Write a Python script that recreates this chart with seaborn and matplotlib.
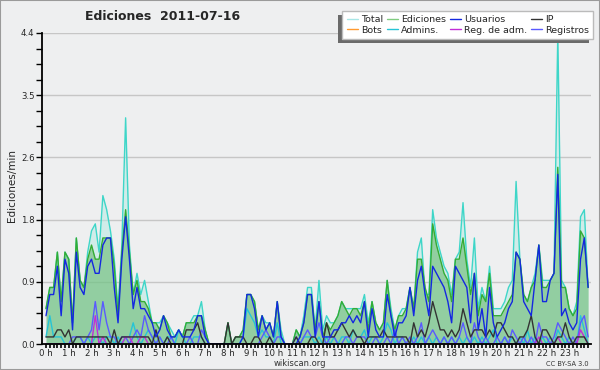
import numpy as np
import pandas as pd
import matplotlib
matplotlib.use("Agg")
import matplotlib.pyplot as plt
import seaborn as sns
from matplotlib.patches import Rectangle
from matplotlib.lines import Line2D
from matplotlib.ticker import FixedLocator, FixedFormatter

# ---- data (edits per minute, 10-minute bins, 2011-07-16) ----
total = [0.5, 0.8, 0.8, 1.3, 0.6, 1.3,  1.2, 0.3, 1.5, 0.9, 0.8, 1.3,
         1.6, 1.7, 1.3, 2.1, 1.9, 1.6,  1.2, 0.5, 1.4, 3.2, 1.4, 0.7,
         1.0, 0.7, 0.9, 0.6, 0.3, 0.3,  0.3, 0.4, 0.3, 0.2, 0.1, 0.2,
         0.1, 0.3, 0.3, 0.4, 0.4, 0.6,  0.2, 0.0, 0.0, 0.0, 0.0, 0.0,
         0.3, 0.0, 0.1, 0.1, 0.2, 0.7,  0.7, 0.6, 0.2, 0.4, 0.3, 0.3,
         0.1, 0.6, 0.2, 0.0, 0.0, 0.0,  0.2, 0.1, 0.4, 0.8, 0.8, 0.2,
         0.9, 0.2, 0.4, 0.3, 0.3, 0.4,  0.6, 0.5, 0.5, 0.5, 0.5, 0.5,
         0.7, 0.3, 0.6, 0.3, 0.2, 0.3,  0.9, 0.5, 0.2, 0.4, 0.5, 0.5,
         0.8, 0.5, 1.3, 1.5, 0.7, 0.7,  1.9, 1.5, 1.3, 1.1, 1.0, 0.7,
         1.2, 1.3, 2.0, 1.2, 0.8, 1.5,  0.5, 0.8, 0.6, 1.1, 0.5, 0.5,
         0.5, 0.6, 0.8, 0.9, 2.3, 1.2,  0.7, 0.6, 0.8, 1.0, 1.4, 0.9,
         0.9, 0.9, 1.0, 4.4, 0.9, 0.8,  0.5, 0.4, 0.6, 1.8, 1.9, 0.8]
ediciones = [0.5, 0.8, 0.8, 1.3, 0.6, 1.3,  1.2, 0.3, 1.5, 0.9, 0.8, 1.2,
             1.4, 1.2, 1.2, 1.5, 1.5, 1.5,  1.1, 0.4, 1.3, 1.9, 1.3, 0.7,
             0.9, 0.6, 0.6, 0.5, 0.3, 0.3,  0.2, 0.4, 0.3, 0.1, 0.1, 0.2,
             0.1, 0.3, 0.3, 0.3, 0.4, 0.4,  0.2, 0.0, 0.0, 0.0, 0.0, 0.0,
             0.3, 0.0, 0.1, 0.1, 0.2, 0.7,  0.7, 0.6, 0.2, 0.4, 0.2, 0.3,
             0.1, 0.6, 0.1, 0.0, 0.0, 0.0,  0.2, 0.1, 0.3, 0.7, 0.7, 0.2,
             0.6, 0.1, 0.3, 0.2, 0.3, 0.4,  0.6, 0.5, 0.4, 0.5, 0.5, 0.4,
             0.6, 0.2, 0.6, 0.3, 0.2, 0.3,  0.9, 0.4, 0.2, 0.4, 0.4, 0.5,
             0.8, 0.5, 1.2, 1.2, 0.8, 0.6,  1.7, 1.4, 1.2, 1.0, 0.9, 0.6,
             1.2, 1.2, 1.5, 1.1, 0.7, 1.0,  0.4, 0.7, 0.6, 1.0, 0.4, 0.4,
             0.4, 0.5, 0.6, 0.7, 1.3, 1.2,  0.7, 0.6, 0.8, 0.9, 1.4, 0.8,
             0.8, 0.9, 1.0, 2.5, 0.8, 0.8,  0.5, 0.4, 0.5, 1.6, 1.5, 0.8]
usuarios = [0.4, 0.7, 0.7, 1.1, 0.4, 1.2,  1.0, 0.2, 1.3, 0.8, 0.7, 1.1,
            1.2, 1.0, 1.0, 1.4, 1.5, 1.5,  0.8, 0.3, 1.2, 1.8, 1.2, 0.5,
            0.8, 0.5, 0.5, 0.4, 0.3, 0.1,  0.2, 0.4, 0.2, 0.1, 0.1, 0.2,
            0.1, 0.1, 0.1, 0.2, 0.4, 0.4,  0.1, 0.0, 0.0, 0.0, 0.0, 0.0,
            0.0, 0.0, 0.0, 0.0, 0.1, 0.7,  0.7, 0.5, 0.1, 0.4, 0.2, 0.3,
            0.1, 0.6, 0.1, 0.0, 0.0, 0.0,  0.0, 0.1, 0.3, 0.7, 0.7, 0.1,
            0.6, 0.1, 0.1, 0.1, 0.2, 0.2,  0.3, 0.3, 0.4, 0.3, 0.4, 0.3,
            0.6, 0.1, 0.5, 0.2, 0.1, 0.1,  0.7, 0.4, 0.1, 0.3, 0.3, 0.4,
            0.8, 0.4, 0.9, 1.1, 0.7, 0.4,  1.1, 1.0, 0.9, 0.8, 0.6, 0.3,
            1.1, 1.0, 0.9, 0.8, 0.3, 1.0,  0.2, 0.5, 0.1, 0.8, 0.3, 0.1,
            0.2, 0.3, 0.5, 0.6, 1.3, 1.2,  0.6, 0.5, 0.4, 0.9, 1.4, 0.6,
            0.6, 0.9, 1.0, 2.4, 0.4, 0.5,  0.3, 0.2, 0.3, 1.2, 1.5, 0.8]
ip = [0.1, 0.1, 0.1, 0.2, 0.2, 0.1,  0.2, 0.0, 0.1, 0.1, 0.1, 0.1,
      0.1, 0.1, 0.1, 0.1, 0.1, 0.0,  0.2, 0.0, 0.1, 0.1, 0.1, 0.1,
      0.1, 0.1, 0.1, 0.1, 0.0, 0.2,  0.0, 0.0, 0.1, 0.0, 0.0, 0.0,
      0.0, 0.2, 0.2, 0.2, 0.3, 0.1,  0.0, 0.0, 0.0, 0.0, 0.0, 0.0,
      0.3, 0.0, 0.1, 0.1, 0.1, 0.0,  0.0, 0.1, 0.1, 0.0, 0.0, 0.1,
      0.0, 0.0, 0.0, 0.0, 0.0, 0.0,  0.1, 0.0, 0.0, 0.0, 0.1, 0.1,
      0.0, 0.0, 0.3, 0.1, 0.1, 0.2,  0.3, 0.2, 0.1, 0.2, 0.1, 0.1,
      0.0, 0.1, 0.1, 0.1, 0.1, 0.2,  0.1, 0.1, 0.1, 0.1, 0.1, 0.1,
      0.0, 0.3, 0.1, 0.2, 0.1, 0.3,  0.6, 0.4, 0.2, 0.2, 0.1, 0.2,
      0.1, 0.2, 0.5, 0.3, 0.1, 0.2,  0.2, 0.2, 0.1, 0.2, 0.1, 0.3,
      0.3, 0.2, 0.1, 0.1, 0.0, 0.1,  0.1, 0.2, 0.4, 0.1, 0.0, 0.2,
      0.2, 0.1, 0.0, 0.1, 0.1, 0.3,  0.1, 0.0, 0.1, 0.1, 0.1, 0.0]
admins = [0.1, 0.4, 0.1, 0.1, 0.1, 0.0,  0.0, 0.0, 0.1, 0.1, 0.0, 0.1,
          0.0, 0.1, 0.1, 0.0, 0.1, 0.1,  0.0, 0.1, 0.0, 0.1, 0.1, 0.3,
          0.1, 0.0, 0.1, 0.2, 0.1, 0.0,  0.1, 0.0, 0.1, 0.1, 0.0, 0.2,
          0.1, 0.0, 0.0, 0.1, 0.1, 0.1,  0.0, 0.0, 0.0, 0.0, 0.0, 0.0,
          0.0, 0.0, 0.0, 0.0, 0.1, 0.5,  0.4, 0.3, 0.1, 0.2, 0.1, 0.1,
          0.0, 0.3, 0.0, 0.0, 0.0, 0.0,  0.0, 0.0, 0.1, 0.1, 0.1, 0.0,
          0.1, 0.0, 0.1, 0.0, 0.1, 0.0,  0.1, 0.1, 0.0, 0.2, 0.1, 0.1,
          0.2, 0.0, 0.1, 0.1, 0.0, 0.1,  0.3, 0.2, 0.0, 0.1, 0.1, 0.0,
          0.0, 0.1, 0.0, 0.1, 0.0, 0.1,  0.0, 0.1, 0.0, 0.1, 0.0, 0.1,
          0.0, 0.1, 0.0, 0.1, 0.0, 0.1,  0.0, 0.1, 0.0, 0.1, 0.2, 0.0,
          0.0, 0.1, 0.0, 0.1, 0.0, 0.1,  0.0, 0.2, 0.0, 0.1, 0.0, 0.1,
          0.0, 0.1, 0.0, 0.2, 0.1, 0.0,  0.1, 0.0, 0.0, 0.4, 0.2, 0.0]
registros = [0.0, 0.0, 0.0, 0.0, 0.0, 0.0,  0.0, 0.1, 0.1, 0.1, 0.0, 0.1,
             0.2, 0.6, 0.2, 0.6, 0.3, 0.1,  0.1, 0.0, 0.1, 0.1, 0.0, 0.1,
             0.2, 0.1, 0.4, 0.2, 0.1, 0.0,  0.1, 0.0, 0.0, 0.1, 0.0, 0.0,
             0.0, 0.0, 0.1, 0.0, 0.0, 0.2,  0.1, 0.0, 0.0, 0.0, 0.0, 0.0,
             0.0, 0.0, 0.0, 0.0, 0.0, 0.0,  0.0, 0.0, 0.0, 0.1, 0.2, 0.1,
             0.0, 0.1, 0.1, 0.0, 0.0, 0.0,  0.1, 0.0, 0.1, 0.2, 0.1, 0.1,
             0.3, 0.1, 0.0, 0.1, 0.1, 0.0,  0.0, 0.1, 0.1, 0.0, 0.1, 0.1,
             0.1, 0.0, 0.0, 0.1, 0.0, 0.0,  0.1, 0.0, 0.2, 0.0, 0.1, 0.0,
             0.1, 0.0, 0.1, 0.3, 0.0, 0.1,  0.2, 0.1, 0.0, 0.1, 0.0, 0.1,
             0.0, 0.1, 0.3, 0.1, 0.0, 0.3,  0.1, 0.0, 0.1, 0.0, 0.0, 0.1,
             0.0, 0.1, 0.0, 0.2, 0.1, 0.0,  0.1, 0.0, 0.1, 0.0, 0.3, 0.1,
             0.1, 0.0, 0.1, 0.3, 0.2, 0.1,  0.0, 0.1, 0.0, 0.3, 0.4, 0.1]
reg_adm = [0.0, 0.0, 0.0, 0.0, 0.0, 0.0,  0.0, 0.0, 0.0, 0.0, 0.0, 0.0,
           0.0, 0.4, 0.0, 0.1, 0.0, 0.0,  0.0, 0.0, 0.0, 0.1, 0.1, 0.0,
           0.0, 0.1, 0.1, 0.0, 0.0, 0.0,  0.0, 0.0, 0.0, 0.0, 0.0, 0.0,
           0.0, 0.0, 0.0, 0.0, 0.0, 0.0,  0.0, 0.0, 0.0, 0.0, 0.0, 0.0,
           0.0, 0.0, 0.0, 0.0, 0.0, 0.0,  0.0, 0.0, 0.0, 0.0, 0.0, 0.0,
           0.0, 0.0, 0.0, 0.0, 0.0, 0.0,  0.0, 0.0, 0.0, 0.0, 0.0, 0.0,
           0.0, 0.0, 0.0, 0.0, 0.0, 0.0,  0.0, 0.0, 0.0, 0.0, 0.0, 0.0,
           0.0, 0.0, 0.0, 0.0, 0.0, 0.0,  0.0, 0.0, 0.0, 0.0, 0.0, 0.0,
           0.0, 0.0, 0.0, 0.0, 0.0, 0.0,  0.0, 0.0, 0.0, 0.0, 0.0, 0.0,
           0.0, 0.0, 0.0, 0.0, 0.0, 0.0,  0.0, 0.0, 0.0, 0.0, 0.0, 0.0,
           0.0, 0.0, 0.0, 0.0, 0.0, 0.0,  0.0, 0.0, 0.0, 0.0, 0.1, 0.0,
           0.0, 0.0, 0.0, 0.1, 0.0, 0.0,  0.0, 0.0, 0.0, 0.2, 0.1, 0.0]
bots = [0.0] * 144
minutes = list(range(0, 1440, 10))
hour_labels = [f"{h} h" for h in range(24)]
ytick_vals = [0.0, 0.88, 1.76, 2.64, 3.52, 4.4]
ytick_labels = ["0.0", "0.9", "1.8", "2.6", "3.5", "4.4"]

df = pd.DataFrame({
    "hora": np.array(minutes) / 60.0,
    "Total": total, "Ediciones": ediciones, "Usuarios": usuarios, "IP": ip,
    "Bots": bots, "Admins.": admins, "Reg. de adm.": reg_adm, "Registros": registros,
})

sns.set_style("ticks")
plt.rcParams["font.family"] = ["DejaVu Sans"]

BG = "#eeeff0"
W, H = 600, 370
fig = plt.figure(figsize=(6, 3.7), dpi=100, facecolor=BG)
ax = fig.add_axes([41.5 / W, 26 / H, (591 - 41.5) / W, 311 / H])
ax.set_facecolor(BG)

colors = {
    "Total": "#3ed6c8", "Ediciones": "#34ac34", "Usuarios": "#1428e0", "IP": "#333333",
    "Bots": "#ff9a30", "Admins.": "#26c4d6", "Reg. de adm.": "#c22ed8", "Registros": "#5a5aff",
}

ax.fill_between(df["hora"], df["Total"], color="#b8ebe4", alpha=0.55, lw=0, zorder=1)
ax.fill_between(df["hora"], df["Ediciones"], color="#3ea63e", alpha=0.42, lw=0, zorder=2)

order = ["Total", "Ediciones", "Admins.", "Registros", "Reg. de adm.", "Bots", "IP", "Usuarios"]
for z, name in enumerate(order):
    if name == "Bots":
        continue
    sns.lineplot(data=df, x="hora", y=name, ax=ax, color=colors[name], lw=1.0,
                 zorder=3 + z, legend=False)

ax.set_xlim(-0.198, 23.96)
ax.set_ylim(0, 4.4)
ax.set_xlabel("")
ax.set_ylabel("")

ax.xaxis.set_major_locator(FixedLocator(list(range(24))))
ax.xaxis.set_major_formatter(FixedFormatter(hour_labels))
ax.xaxis.set_minor_locator(FixedLocator([m / 60.0 for m in minutes]))
ax.yaxis.set_major_locator(FixedLocator(ytick_vals))
ax.yaxis.set_major_formatter(FixedFormatter(ytick_labels))
ax.yaxis.set_minor_locator(FixedLocator([i * 0.22 for i in range(21)]))

ax.tick_params(axis="x", which="both", direction="out", length=3, width=1.2,
               labelsize=6.2, pad=0.5, color="black")
ax.tick_params(axis="y", which="both", direction="out", length=4, width=1,
               labelsize=6.2, pad=1, color="black")

ax.yaxis.grid(True, which="major", color="#c6c6c6", lw=1)
ax.set_axisbelow(True)
for s in ["top", "right"]:
    ax.spines[s].set_visible(False)
for s in ["left", "bottom"]:
    ax.spines[s].set_color("black")
    ax.spines[s].set_linewidth(1.3)
    ax.spines[s].set_zorder(20)

fig.text(85 / W, 1 - 17 / H, "Ediciones  2011-07-16", fontsize=9,
         fontweight="bold", va="center", ha="left")
fig.text(12 / W, 1 - 185 / H, "Ediciones/min", rotation=90, fontsize=7.5,
         va="center", ha="center")
fig.text(300 / W, 1 - 363.5 / H, "wikiscan.org", fontsize=6,
         va="center", ha="center", color="#333333")
fig.text(589 / W, 1 - 363.5 / H, "CC BY-SA 3.0", fontsize=4.8,
         va="center", ha="right", color="#333333")

leg_names = ["Total", "Bots", "Ediciones", "Admins.", "Usuarios", "Reg. de adm.", "IP", "Registros"]
leg_cols = dict(colors)
leg_cols["Total"] = "#a8e6e6"
leg_cols["Ediciones"] = "#80cc80"
handles = [Line2D([], [], color=leg_cols[n], lw=1) for n in leg_names]
leg = fig.legend(handles, leg_names, ncol=4, loc="upper right",
                 bbox_to_anchor=(593 / W, 1 - 11 / H), borderaxespad=0,
                 fontsize=6.8, frameon=True,
                 fancybox=False, edgecolor="#bbbbbb", framealpha=1, facecolor="white",
                 handlelength=1.2, handletextpad=0.3, columnspacing=0.4,
                 labelspacing=0.15, borderpad=0.45, shadow=False)
leg.set_zorder(30)

# manual drop shadow, offset to the lower left as in the reference
fig.canvas.draw()
bb = leg.get_window_extent()
fig.patches.append(Rectangle((bb.x0 - 4, bb.y0 - 4), bb.width, bb.height,
                             transform=None, facecolor="#6a6a6a",
                             edgecolor="none", zorder=25))

fig.patches.append(Rectangle((0, 0), 1, 1, transform=fig.transFigure, fill=False,
                             edgecolor="#9a9a9a", lw=1.5))

fig.savefig("out.png", dpi=100, facecolor=BG)
